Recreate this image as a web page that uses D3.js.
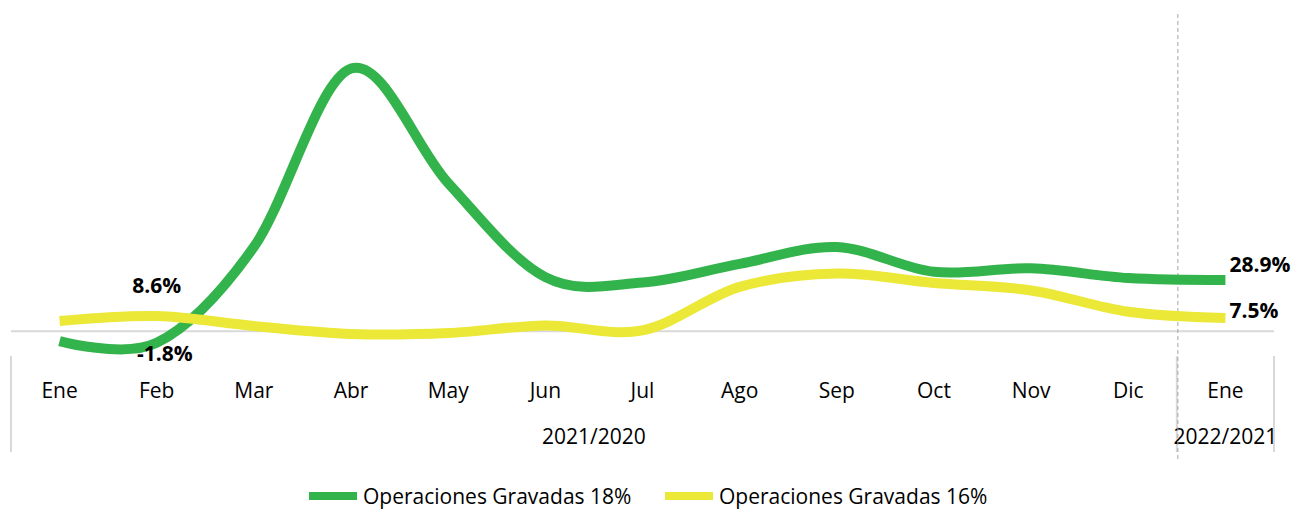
<!DOCTYPE html>
<html>
<head>
    <meta charset="utf-8">
    <title>Operaciones Gravadas</title>
    <script src="https://d3js.org/d3.v7.min.js"></script>
</head>
<style>
    body {
        margin: 0px;
        background-color: white;
        overflow: hidden;
    }

    text {
        font-family: "Open Sans", Lato, sans-serif;
        fill: black;
    }
</style>
<body>
    <svg id="svg"></svg>
    <script>
        // data
        var months = ["Ene", "Feb", "Mar", "Abr", "May", "Jun", "Jul", "Ago", "Sep", "Oct", "Nov", "Dic", "Ene"]
        var years = [
            { label: "2021/2020", from: 0, to: 11 },
            { label: "2022/2021", from: 12, to: 12 }
        ]
        var gravadas18 = [-5.5, -6.5, 47.5, 148, 83.5, 30.5, 27.5, 38, 47.5, 33.5, 35.5, 30, 28.9]
        var gravadas16 = [5.8, 8.6, 3.0, -1.5, -1.0, 3.3, 0.5, 25, 32.5, 27.2, 23, 11, 7.5]
        var series = [
            { name: "Operaciones Gravadas 18%", values: gravadas18, color: "#33b34b" },
            { name: "Operaciones Gravadas 16%", values: gravadas16, color: "#ebe838" }
        ]
        // data labels shown on the chart
        var labels = [
            { s: 1, i: 1, text: "8.6%", dx: 0, dy: -31, anchor: "middle" },
            { s: 0, i: 1, text: "-1.8%", dx: 8, dy: 10, anchor: "middle" },
            { s: 0, i: 12, text: "28.9%", dx: 4, dy: -16, anchor: "start" },
            { s: 1, i: 12, text: "7.5%", dx: 4, dy: -8, anchor: "start" }
        ]

        var width = 1291
        var height = 510

        var svg = d3.select("svg")
            .attr("width", width)
            .attr("height", height)

        var x = d3.scalePoint()
            .domain(d3.range(months.length))
            .range([11, 1274])
            .padding(0.5)

        var y = d3.scaleLinear()
            .domain([0, 150])
            .range([331.3, 65])

        var step = x.step()

        // zero line
        svg.append("line")
            .attr("x1", 11).attr("x2", 1274)
            .attr("y1", y(0)).attr("y2", y(0))
            .attr("stroke", "#d9d9d9")
            .attr("stroke-width", 2)

        // category axis separators
        var seps = [0, 12, 13]
        svg.selectAll(".sep")
            .data(seps)
            .join("line")
            .attr("class", "sep")
            .attr("x1", d => x(0) - step / 2 + d * step)
            .attr("x2", d => x(0) - step / 2 + d * step)
            .attr("y1", 356)
            .attr("y2", 452)
            .attr("stroke", "#d9d9d9")
            .attr("stroke-width", 2)

        // month labels
        svg.selectAll(".month")
            .data(months)
            .join("text")
            .attr("class", "month")
            .attr("x", (d, i) => x(i))
            .attr("y", 390)
            .attr("dominant-baseline", "central")
            .attr("text-anchor", "middle")
            .attr("font-size", 21)
            .text(d => d)

        // year labels
        svg.selectAll(".year")
            .data(years)
            .join("text")
            .attr("class", "year")
            .attr("x", d => (x(d.from) + x(d.to)) / 2)
            .attr("y", 436)
            .attr("dominant-baseline", "central")
            .attr("text-anchor", "middle")
            .attr("font-size", 21)
            .text(d => d.label)

        // dashed separator between years
        var sepX = x(12) - step / 2 + 1
        svg.append("line")
            .attr("x1", sepX).attr("x2", sepX)
            .attr("y1", 14).attr("y2", 462)
            .attr("stroke", "#a6a6a6")
            .attr("stroke-width", 1)
            .attr("stroke-dasharray", "4,3")

        var line = d3.line()
            .x((d, i) => x(i))
            .y(d => y(d))
            .curve(d3.curveCatmullRom.alpha(0))

        svg.selectAll(".series")
            .data(series)
            .join("path")
            .attr("class", "series")
            .attr("fill", "none")
            .attr("stroke", d => d.color)
            .attr("stroke-width", 10)
            .attr("d", d => line(d.values))

        svg.selectAll(".dlabel")
            .data(labels)
            .join("text")
            .attr("class", "dlabel")
            .attr("x", d => x(d.i) + d.dx)
            .attr("y", d => y(series[d.s].values[d.i]) + d.dy)
            .attr("text-anchor", d => d.anchor)
            .attr("dominant-baseline", "central")
            .attr("font-size", 21)
            .attr("font-weight", "bold")
            .text(d => d.text)

        // legend
        var legend = svg.append("g")
            .attr("transform", "translate(309, 496)")

        var item = legend.selectAll(".item")
            .data(series)
            .join("g")
            .attr("class", "item")
            .attr("transform", (d, i) => "translate(" + i * 356 + ",0)")

        item.append("line")
            .attr("x1", 0).attr("x2", 48)
            .attr("y1", 0).attr("y2", 0)
            .attr("stroke", d => d.color)
            .attr("stroke-width", 8)

        item.append("text")
            .attr("x", 54)
            .attr("y", 0)
            .attr("dominant-baseline", "central")
            .attr("font-size", 21)
            .text(d => d.name)
    </script>
</body>
</html>
